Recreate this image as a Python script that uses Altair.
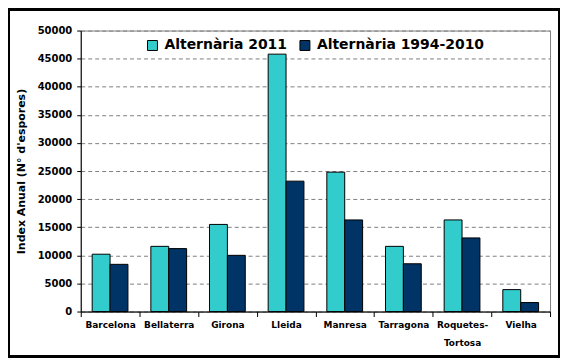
import altair as alt
import pandas as pd

cities = ["Barcelona", "Bellaterra", "Girona", "Lleida", "Manresa",
          "Tarragona", "Roquetes-Tortosa", "Vielha"]
series = ["Alternària 2011", "Alternària 1994-2010"]
v2011 = [10200, 11600, 15500, 45800, 24800, 11600, 16300, 3900]
v9410 = [8400, 11200, 10000, 23200, 16300, 8500, 13100, 1600]
colors = ["#33CCCC", "#003366"]
y_ticks = [0, 5000, 10000, 15000, 20000, 25000, 30000, 35000, 40000, 45000, 50000]

rows = []
for c, a, b in zip(cities, v2011, v9410):
    rows.append({"ciutat": c, "serie": series[0], "valor": a})
    rows.append({"ciutat": c, "serie": series[1], "valor": b})
df = pd.DataFrame(rows)

W, H = 471, 282
PL, PT, PR, PB = 73, 22, 10, 46
FONT = "DejaVu Sans"

bars = alt.Chart(df).mark_bar(stroke="black", strokeWidth=1).encode(
    x=alt.X("ciutat:N", sort=cities,
            scale=alt.Scale(paddingInner=0, paddingOuter=0),
            axis=alt.Axis(title=None, labelAngle=0, tickBand="extent",
                          domainColor="black", tickColor="black", tickSize=5,
                          labelFont=FONT, labelFontSize=9, labelFontWeight="bold",
                          labelColor="black", labelPadding=4, labelLineHeight=18,
                          labelExpr="datum.label == 'Roquetes-Tortosa' ? ['Roquetes-', 'Tortosa'] : datum.label",
                          grid=False)),
    xOffset=alt.XOffset("serie:N", sort=series,
                        scale=alt.Scale(paddingInner=0, paddingOuter=0.64)),
    y=alt.Y("valor:Q",
            scale=alt.Scale(domain=[0, 50000], nice=False),
            axis=alt.Axis(title="Index Anual (N° d'espores)", values=y_ticks,
                          format="d", domainColor="black", tickColor="black",
                          tickSize=4, labelFont=FONT, labelFontSize=10,
                          labelFontWeight="bold", labelColor="black", labelPadding=5,
                          titleFont=FONT, titleFontSize=11, titleFontWeight="bold",
                          titleColor="black", titlePadding=11,
                          grid=True, gridColor="#808080", gridDash=[4, 3],
                          gridWidth=1)),
    color=alt.Color("serie:N", sort=series,
                    scale=alt.Scale(domain=series, range=colors),
                    legend=alt.Legend(title=None, orient="none", direction="horizontal",
                                      legendX=65, legendY=8, symbolType="square",
                                      symbolSize=100, symbolStrokeColor="black",
                                      symbolStrokeWidth=1, symbolOpacity=1,
                                      labelFont=FONT, labelFontSize=14,
                                      labelFontWeight="bold", labelColor="black",
                                      labelOffset=5, columnPadding=10, labelLimit=0)),
)

frame = alt.Chart(df).mark_rect(fill=None, stroke="black", strokeWidth=2).encode(
    x=alt.value(-PL + 1), x2=alt.value(W + PR - 1),
    y=alt.value(-PT + 1), y2=alt.value(H + PB - 1),
)

chart = alt.layer(bars, frame).properties(
    width=W, height=H,
    padding={"left": PL, "top": PT, "right": PR, "bottom": PB},
    autosize=alt.AutoSizeParams(type="none"),
    background="white",
).configure_view(stroke="#808080", strokeWidth=1)

chart.save("out.html", embed_options={"renderer": "svg", "actions": False})
